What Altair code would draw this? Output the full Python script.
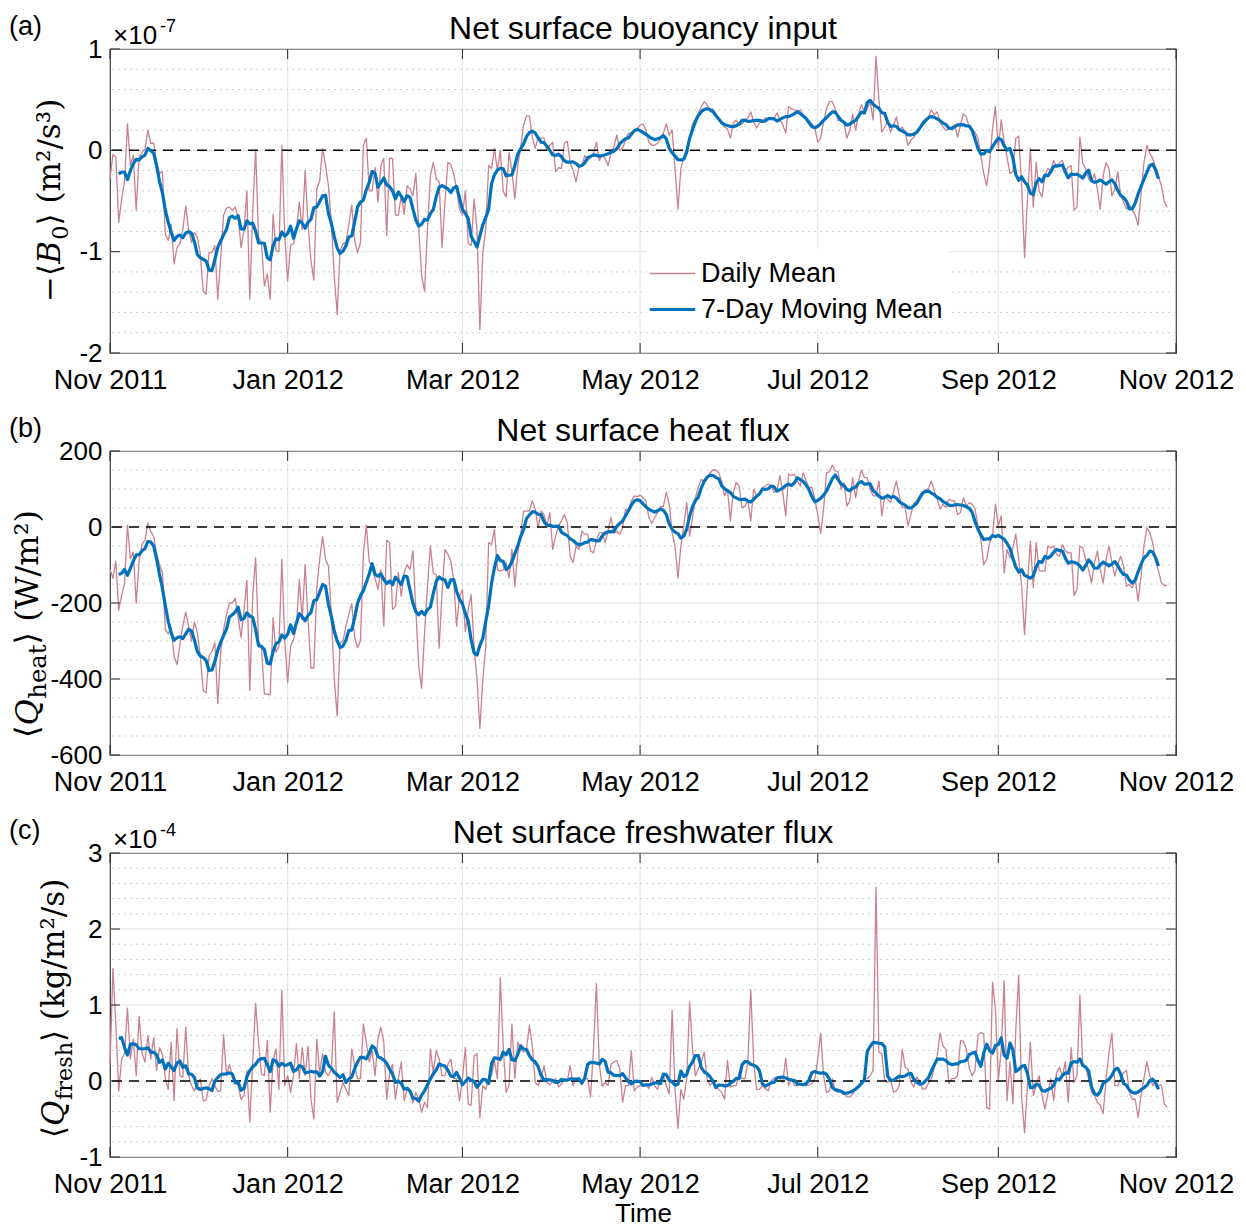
import altair as alt
import pandas as pd
import numpy as np

# ---------------- data ----------------
START = "2011-11-01"

# -<B0>, units of 1e-7 m^2/s^3, daily from 1 Nov 2011
buoyancy = [
    -0.28, -0.04, -0.07, -0.71, -0.48, -0.31, 0.26, -0.15, -0.05, -0.59,
    -0.07, -0.02, 0.01, 0.20, 0.07, 0.07, -0.12, -0.23, -0.21, -0.83,
    -0.89, -0.73, -1.12, -0.96, -0.92, -0.78, -0.55, -0.79, -0.91, -0.81,
    -0.86, -1.02, -1.39, -1.42, -1.01, -1.01, -0.94, -1.47, -1.07, -0.64,
    -0.57, -0.56, -0.59, -0.56, -0.66, -0.96, -0.79, -0.40, -1.47, -0.61,
    0.01, -0.86, -0.91, -1.34, -1.22, -1.47, -0.63, -0.99, -1.00, 0.05,
    -0.84, -1.29, -0.94, -0.92, -0.79, -0.51, -0.78, -0.20, -0.73, -1.09,
    -1.28, -0.38, -0.30, 0.02, -0.15, -0.35, -0.71, -1.24, -1.62, -0.99,
    -0.92, -0.91, -0.73, -0.54, -0.89, -1.01, -0.91, 0.05, 0.12, -0.40,
    -0.40, -0.17, -0.51, -0.15, -0.08, -0.84, -0.08, -0.08, -0.64, -0.64,
    -0.45, -0.63, -0.35, -0.38, -0.45, -0.23, -0.76, -1.24, -1.39, -0.78,
    -0.25, -0.12, -0.28, -0.31, -0.96, -0.51, -0.12, -0.14, -0.23, -0.38,
    -0.58, -0.64, -0.40, -0.92, -0.94, -0.48, -0.78, -1.77, -1.01, -0.78,
    -0.15, -0.18, 0.02, -0.20, 0.00, -0.40, -0.46, -0.02, -0.21, -0.48,
    -0.15, 0.02, 0.25, 0.34, 0.34, 0.13, 0.02, 0.13, 0.12, 0.12,
    0.00, 0.05, 0.08, -0.21, -0.17, -0.18, 0.07, 0.09, -0.12, -0.20,
    -0.31, -0.17, -0.15, -0.05, -0.10, -0.07, -0.03, 0.08, -0.10, -0.05,
    -0.08, -0.15, -0.03, 0.03, 0.15, 0.00, 0.02, 0.10, 0.17, 0.17,
    0.19, 0.21, 0.25, 0.26, 0.20, 0.08, 0.05, 0.05, 0.07, 0.12,
    0.17, 0.26, 0.15, 0.20, -0.18, -0.58, -0.18, -0.07, 0.02, 0.12,
    0.26, 0.31, 0.36, 0.43, 0.48, 0.45, 0.38, 0.41, 0.36, 0.31,
    0.27, 0.23, 0.21, 0.12, 0.27, 0.30, 0.25, 0.26, 0.29, 0.32,
    0.38, 0.28, 0.22, 0.27, 0.29, 0.32, 0.31, 0.31, 0.31, 0.37,
    0.30, 0.25, 0.17, 0.43, 0.41, 0.40, 0.37, 0.40, 0.35, 0.31,
    0.29, 0.26, 0.22, 0.08, 0.12, 0.28, 0.41, 0.48, 0.48, 0.41,
    0.29, 0.30, 0.27, 0.12, 0.20, 0.36, 0.20, 0.36, 0.45, 0.38,
    0.41, 0.48, 0.30, 0.93, 0.50, 0.18, 0.23, 0.28, 0.18, 0.25,
    0.33, 0.20, 0.23, 0.18, 0.05, 0.10, 0.13, 0.18, 0.20, 0.28,
    0.31, 0.33, 0.40, 0.35, 0.38, 0.28, 0.23, 0.20, 0.21, 0.23,
    0.25, 0.13, 0.25, 0.36, 0.33, 0.23, 0.21, 0.18, 0.12, -0.05,
    -0.23, -0.35, -0.13, 0.21, 0.43, 0.02, 0.30, 0.08, -0.07, -0.23,
    -0.21, 0.12, 0.14, -0.35, -1.06, -0.48, 0.02, -0.56, -0.12, -0.40,
    -0.46, -0.25, -0.18, -0.20, -0.10, -0.17, -0.12, -0.10, -0.20, -0.17,
    -0.15, -0.59, -0.56, 0.13, -0.13, -0.18, -0.28, -0.31, -0.23, -0.38,
    -0.58, -0.25, -0.12, -0.18, -0.45, -0.38, -0.21, -0.45, -0.51, -0.58,
    -0.54, -0.59, -0.64, -0.74, -0.43, -0.12, 0.05, -0.03, -0.08, -0.17,
    -0.26, -0.35, -0.51, -0.56,
]

# <Q_heat>, W/m^2
heat = [
    -112, -135, -90, -219, -180, -147, 4, -83, -66, -200,
    -90, -45, -35, 10, -12, -25, -70, -100, -120, -270,
    -281, -265, -340, -362, -310, -260, -224, -261, -300, -250,
    -279, -340, -430, -437, -340, -327, -305, -465, -330, -270,
    -230, -200, -200, -187, -240, -290, -220, -140, -430, -180,
    -81, -300, -316, -440, -440, -442, -239, -330, -314, -85,
    -297, -410, -314, -297, -260, -138, -244, -99, -244, -371,
    -371, -160, -85, -25, -85, -103, -230, -400, -497, -305,
    -300, -260, -230, -202, -290, -318, -300, -70, 5, -90,
    -110, -135, -165, -112, -261, -35, -41, -217, -209, -120,
    -182, -120, -99, -112, -62, -217, -367, -424, -279, -156,
    -50, -122, -125, -319, -173, -59, -72, -90, -138, -261,
    -182, -165, -275, -217, -178, -314, -402, -530, -402, -314,
    -41, -46, -6, -112, -116, -112, -94, -134, -59, -156,
    -68, -19, 42, 42, 42, 69, 47, -2, 42, 33,
    3, 38, -59, -24, 3, 16, 33, 11, -77, -94,
    -50, -59, -11, -19, -19, -63, -68, -37, -15, -15,
    -41, -11, 25, -17, -11, -19, -2, 47, 42, 69,
    82, 80, 84, 77, 69, 25, 10, 25, 38, 54,
    54, 91, 60, -15, -50, -134, -50, 3, 64, -24,
    25, 77, 104, 126, 117, 126, 142, 150, 150, 143,
    121, 82, 99, 16, 91, 117, 108, 51, 55, 69,
    16, 99, 82, 86, 104, 108, 113, 108, 91, 95,
    135, 91, 29, 139, 136, 139, 121, 108, 143, 121,
    104, 104, 73, 33, -17, 47, 143, 145, 163, 148,
    145, 99, 117, 55, 69, 130, 77, 121, 150, 130,
    130, 99, 82, 82, 121, 29, 82, 73, 64, 91,
    121, 82, 51, 51, 3, 33, 62, 69, 82, 91,
    98, 101, 121, 95, 73, 47, 60, 51, 73, 69,
    69, 33, 38, 77, 55, 64, 60, 48, 3, -33,
    -99, -85, -41, -24, 60, 3, 29, -121, -59, -81,
    -55, -19, -85, -156, -283, -151, -37, -160, -41, -114,
    -116, -116, -50, -55, -50, -72, -77, -46, -63, -68,
    -68, -180, -165, -50, -55, -85, -112, -147, -94, -63,
    -112, -147, -85, -50, -94, -129, -99, -77, -103, -156,
    -151, -160, -138, -195, -129, -50, -2, -15, -41, -90,
    -116, -147, -154, -154,
]

# <Q_fresh>, units of 1e-4 kg/m^2/s
fresh = [
    0.20, 1.48, 0.75, -0.13, 0.29, 0.36, 0.96, 0.29, 0.55, 0.07,
    0.85, 0.36, 0.25, 0.60, 0.29, 0.57, 0.14, 0.44, 0.35, 0.03,
    -0.11, 0.51, -0.26, 0.69, 0.07, 0.05, 0.71, 0.07, -0.06, -0.13,
    -0.05, 0.03, -0.26, -0.25, -0.06, 0.03, -0.06, -0.14, -0.13, 0.61,
    0.07, 0.22, 0.07, -0.03, -0.06, -0.24, -0.19, 0.14, -0.54, 0.25,
    1.02, 0.51, 0.09, 0.07, 0.53, -0.41, 0.27, 0.42, -0.11, 1.19,
    -0.06, 0.07, -0.15, 0.07, 0.49, 0.03, 0.44, 0.07, 0.46, -0.24,
    -0.50, 0.55, 0.11, 0.36, 0.11, 0.07, 0.16, 0.91, -0.28, -0.15,
    -0.02, -0.11, -0.19, 0.42, 0.20, 0.03, 0.03, 0.75, 0.51, 0.25,
    0.40, 0.07, 0.55, 0.71, 0.51, -0.24, 0.11, 0.22, -0.24, 0.03,
    0.25, -0.26, -0.11, -0.13, -0.29, -0.15, -0.24, -0.41, -0.28, -0.35,
    0.42, 0.11, 0.40, 0.29, 0.07, 0.07, 0.22, 0.29, 0.03, 0.03,
    -0.26, 0.03, 0.44, -0.30, -0.32, 0.33, 0.36, -0.48, -0.06, -0.11,
    0.05, 0.07, 0.27, 0.03, 1.36, 0.46, -0.15, -0.06, 0.75, 0.03,
    0.51, 0.42, 0.38, 0.42, 0.73, 0.46, -0.02, -0.06, 0.03, 0.20,
    -0.02, -0.05, 0.00, 0.03, -0.08, -0.04, 0.03, 0.00, 0.20, -0.06,
    0.03, 0.03, -0.05, 0.03, 0.03, -0.21, 0.42, 1.28, 0.22, -0.07,
    -0.02, -0.06, 0.22, 0.25, 0.27, 0.16, -0.28, -0.06, -0.06, 0.40,
    -0.13, -0.08, -0.06, -0.05, -0.04, -0.10, 0.05, -0.06, -0.11, 0.03,
    0.07, -0.06, -0.17, 0.93, -0.11, -0.62, -0.11, -0.24, 0.03, 1.04,
    0.42, 0.07, 0.16, 0.25, 0.38, 0.03, -0.06, 0.00, -0.08, -0.11,
    -0.15, -0.24, 0.27, -0.08, -0.06, -0.06, 0.11, 0.03, 0.03, 0.25,
    1.20, 0.25, -0.11, -0.11, -0.06, -0.10, -0.13, 0.00, 0.04, 0.05,
    0.03, -0.02, 0.30, -0.06, 0.03, -0.06, -0.06, -0.04, -0.04, -0.06,
    -0.05, -0.03, 0.03, 0.29, 0.63, 0.07, -0.15, -0.13, 0.03, -0.13,
    -0.15, -0.13, -0.14, -0.21, -0.21, -0.17, -0.11, -0.06, -0.02, 0.03,
    0.03, 0.07, 0.14, 2.55, 0.38, 0.36, 0.00, -0.02, 0.03, -0.15,
    -0.13, -0.06, 0.42, 0.18, 0.15, -0.02, -0.08, 0.05, 0.00, -0.11,
    -0.10, -0.03, 0.03, 0.17, 0.33, 0.63, 0.46, 0.42, -0.03, 0.03,
    0.03, 0.07, 0.53, 0.52, 0.42, 0.17, 0.07, 0.14, 0.60, 0.64,
    0.62, -0.35, -0.37, 1.30, 0.95, 0.00, 0.42, 1.32, -0.26, 0.25,
    -0.30, 0.68, 1.39, -0.21, -0.68, -0.06, 0.51, -0.19, -0.06, 0.07,
    -0.19, -0.37, -0.17, 0.03, -0.26, 0.11, 0.18, 0.07, 0.25, -0.28,
    0.44, -0.02, 0.07, 1.13, 0.20, 0.18, 0.03, -0.15, -0.19, -0.28,
    -0.32, -0.43, 0.03, 0.38, 0.63, -0.06, -0.06, 0.03, 0.11, 0.14,
    -0.15, -0.24, -0.24, -0.48, -0.19, 0.03, 0.25, 0.07, -0.06, -0.02,
    -0.06, -0.05, -0.30, -0.35,
]

MONTH_TICKS = ["2011-11-01", "2012-01-01", "2012-03-01", "2012-05-01",
               "2012-07-01", "2012-09-01", "2012-11-01"]
YTICKS_A = [-2, -1, 0, 1]
YTICKS_B = [-600, -400, -200, 0, 200]
YTICKS_C = [-1, 0, 1, 2, 3]
SERIES = ["Daily Mean", "7-Day Moving Mean"]

# ---------------- styling ----------------
W, H = 1066, 304
RED = "#CA8090"
BLUE = "#0072BD"
AX = "#262626"
SANS = "Liberation Sans"
SERIF = "DejaVu Serif"
ONE = pd.DataFrame({"k": [0]})

# rough em-widths used only to lay out pieces of the rotated y labels
EM = {"−": 0.84, "⟨": 0.39, "⟩": 0.39, "B": 0.73, "Q": 0.79, "0": 0.64, " ": 0.32,
      "(": 0.39, ")": 0.39, "m": 0.95, "s": 0.51, "²": 0.40, "³": 0.40, "/": 0.34,
      "W": 1.03, "k": 0.64, "g": 0.64, "h": 0.64, "e": 0.59, "a": 0.60, "t": 0.40,
      "f": 0.37, "r": 0.48}


def tw(t, size):
    return sum(EM.get(c, 0.6) for c in t) * size


def dt(s):
    y, m, d = map(int, s.split("-"))
    return alt.DateTime(year=y, month=m, date=d, utc=True)


XSCALE = alt.Scale(type="utc", domain=[dt(MONTH_TICKS[0]), dt(MONTH_TICKS[-1])])
DATES = pd.date_range(START, periods=400, freq="D").strftime("%Y-%m-%d").tolist()


def text(t, x, y, size, font=SANS, align="left", baseline="alphabetic", angle=0,
         italic=False, color="black"):
    return alt.Chart(ONE).mark_text(
        text=t, font=font, fontSize=size, align=align, baseline=baseline,
        angle=angle, fontStyle="italic" if italic else "normal", color=color
    ).encode(x=alt.value(x), y=alt.value(y))


def ylabel(parts, x0, y0, size, sub_scale=0.72):
    """parts: (text, italic, is_sub). Rotated label reading upward from (x0, y0)."""
    out = []
    along = 0.0
    for t, italic, sub in parts:
        s = size * sub_scale if sub else size
        out.append(text(t, x0 + (8 if sub else 0), y0 - along, s, font=SERIF,
                        angle=270, italic=italic, color="black"))
        along += tw(t, s) + (1.5 if italic else 0)
    return out


def panel(values, letter, title, ydom, yticks, minor_step, exp, ylab_parts,
          ylab_x, ylab_y, ylab_size, sub_scale, legend, xtitle):
    df = pd.DataFrame({"date": DATES[:len(values)], "v": values})
    yscale = alt.Scale(domain=ydom, nice=False, zero=False)
    yax = alt.Axis(values=yticks,
                   labelExpr="datum.value < 0 ? '-' + format(-datum.value, 'd') : format(datum.value, 'd')",
                   labelFontSize=26, labelFont=SANS, labelColor="black", labelPadding=8,
                   ticks=False, domain=False, grid=False, title=None)
    xax = alt.Axis(values=[dt(s) for s in MONTH_TICKS], format="%b %Y",
                   labelFontSize=27, labelFont=SANS, labelColor="black", labelPadding=14,
                   labelFlush=False, labelOverlap=False, ticks=False, domain=False,
                   grid=False, title=xtitle, titleFont=SANS, titleFontSize=26,
                   titleFontWeight="normal", titleColor="black", titlePadding=3)

    def X(f):
        return alt.X(f, type="temporal", scale=XSCALE, axis=xax)

    def Y(f):
        return alt.Y(f, type="quantitative", scale=yscale, axis=yax)

    n_minor = int(round((ydom[1] - ydom[0]) / minor_step))
    minor = [round(ydom[0] + i * minor_step, 6) for i in range(n_minor + 1)]
    minor = [m for m in minor if all(abs(m - t) > 1e-9 for t in yticks)]

    layers = []
    layers.append(alt.Chart(pd.DataFrame({"y": minor})).mark_rule(
        stroke="#BEBEBE", strokeDash=[1.5, 4.5], strokeWidth=1).encode(y=Y("y")))
    layers.append(alt.Chart(pd.DataFrame({"y": yticks})).mark_rule(
        stroke="#E2E2E2", strokeWidth=1).encode(y=Y("y")))
    layers.append(alt.Chart(pd.DataFrame({"d": MONTH_TICKS[1:-1]})).mark_rule(
        stroke="#E2E2E2", strokeWidth=1).encode(x=X("d")))

    if legend:
        leg = alt.Legend(title=None, orient="none", legendX=537, legendY=200,
                         symbolType="M-1.3,0H1.3", symbolSize=1225, labelFontSize=27,
                         labelFont=SANS, labelColor="black", fillColor="white",
                         padding=6, rowPadding=3, labelOffset=9, labelLimit=400)
        cscale = alt.Scale(domain=SERIES, range=[RED, BLUE])
        wscale = alt.Scale(domain=SERIES, range=[1.3, 3.2])
        red = alt.Chart(df).transform_calculate(series="'Daily Mean'").mark_line(
            strokeJoin="round").encode(
            x=X("date"), y=Y("v"),
            color=alt.Color("series:N", scale=cscale, legend=leg),
            strokeWidth=alt.StrokeWidth("series:N", scale=wscale, legend=leg))
    else:
        red = alt.Chart(df).mark_line(color=RED, strokeWidth=1.3, strokeJoin="round").encode(
            x=X("date"), y=Y("v"))
    layers.append(red)

    layers.append(alt.Chart(pd.DataFrame({"y": [0]})).mark_rule(
        stroke="black", strokeDash=[10, 7], strokeWidth=1.5).encode(y=Y("y")))

    ma = alt.Chart(df).transform_window(
        ma="mean(v)", n="count(v)", frame=[-3, 3], sort=[alt.SortField("date")]
    ).transform_filter("datum.n == 7")
    if legend:
        blue = ma.transform_calculate(series="'7-Day Moving Mean'").mark_line(
            strokeJoin="round").encode(
            x=X("date"), y=Y("ma:Q"),
            color=alt.Color("series:N", scale=cscale, legend=leg),
            strokeWidth=alt.StrokeWidth("series:N", scale=wscale, legend=leg))
    else:
        blue = ma.mark_line(color=BLUE, strokeWidth=3.2, strokeJoin="round").encode(
            x=X("date"), y=Y("ma:Q"))
    layers.append(blue)

    # inside ticks on all four sides
    tdf = pd.DataFrame({"y": yticks})
    layers.append(alt.Chart(tdf).mark_rule(stroke=AX, strokeWidth=1).encode(
        y=Y("y"), x=alt.value(0), x2=alt.value(10)))
    layers.append(alt.Chart(tdf).mark_rule(stroke=AX, strokeWidth=1).encode(
        y=Y("y"), x=alt.value(W - 10), x2=alt.value(W)))
    xdf = pd.DataFrame({"d": MONTH_TICKS})
    layers.append(alt.Chart(xdf).mark_rule(stroke=AX, strokeWidth=1).encode(
        x=X("d"), y=alt.value(0), y2=alt.value(10)))
    layers.append(alt.Chart(xdf).mark_rule(stroke=AX, strokeWidth=1).encode(
        x=X("d"), y=alt.value(H - 10), y2=alt.value(H)))

    # texts
    layers.append(text(letter, -101, -22, 27, baseline="middle"))
    layers.append(text(title, W / 2, -20, 32, align="center", baseline="middle"))
    if exp:
        layers.append(text("×10", 3, -5, 26))
        layers.append(text(exp, 50, -17, 18))
    layers += ylabel(ylab_parts, ylab_x, ylab_y, ylab_size, sub_scale)

    return alt.layer(*layers).properties(width=W, height=H)


pa = panel(buoyancy, "(a)", "Net surface buoyancy input", [-2, 1], YTICKS_A, 0.2, "-7",
           [("−⟨", False, False), ("B", True, False), ("0", False, True),
            ("⟩  (m²/s³)", False, False)],
           -50, 253, 31, 0.72, True, None)
pb = panel(heat, "(b)", "Net surface heat flux", [-600, 200], YTICKS_B, 50, None,
           [("⟨", False, False), ("Q", True, False), ("heat", False, True),
            ("⟩    (W/m²)", False, False)],
           -72, 287, 32, 0.76, False, None)
pc = panel(fresh, "(c)", "Net surface freshwater flux", [-1, 3], YTICKS_C, 0.2, "-4",
           [("⟨", False, False), ("Q", True, False), ("fresh", False, True),
            ("⟩  (kg/m²/s)", False, False)],
           -46, 285, 31, 0.72, False, "Time")

chart = alt.vconcat(pa, pb, pc, spacing=20).properties(
    padding={"left": 0, "top": 4, "right": 0, "bottom": 0}
).configure_view(stroke="#3A3A3A", strokeWidth=1.2)

chart.save("out.html", embed_options={"renderer": "svg", "actions": False})
